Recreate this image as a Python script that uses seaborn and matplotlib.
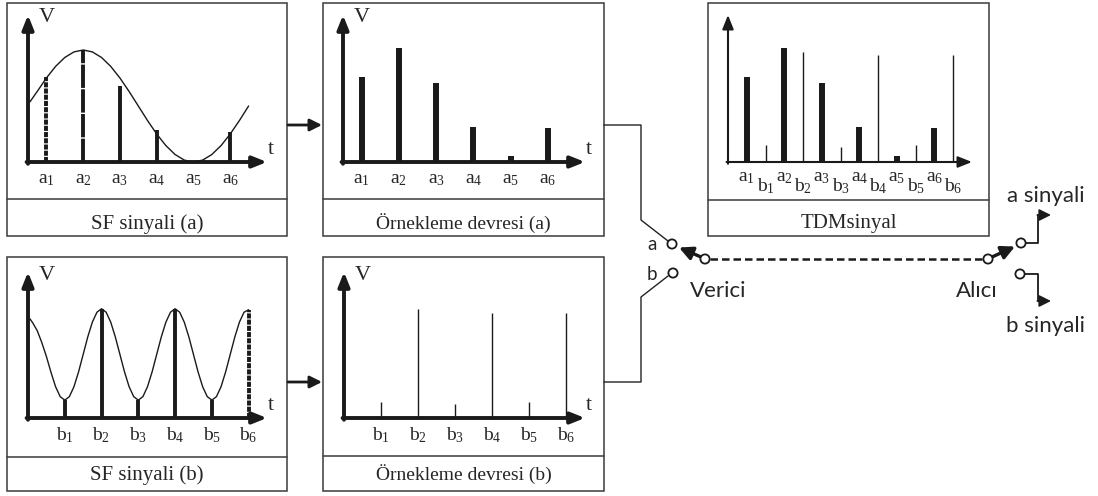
import numpy as np
import pandas as pd
import matplotlib
matplotlib.use("Agg")
import matplotlib.pyplot as plt
import seaborn as sns
from matplotlib.patches import Rectangle, Circle

# ---------------- data ----------------
a_labels = ["a1", "a2", "a3", "a4", "a5", "a6"]
b_labels = ["b1", "b2", "b3", "b4", "b5", "b6"]
a_pos = [1, 2, 3, 4, 5, 6]
b_pos = [1.5, 2.5, 3.5, 4.5, 5.5, 6.5]

# sampled amplitudes (relative units)
a_samples = [85, 114, 79, 35, 6, 34]
b_samples = [16, 110, 14, 106, 16, 106]
tdm_a_samples = [85, 114, 79, 35, 6, 34]
tdm_b_samples = [17, 110, 15, 107, 17, 107]
sf_a_samples = [85, 112, 76, 32, 0, 30]
sf_b_samples = [18, 110, 18, 110, 18, 109]

# analog signal (a)
sf_a_t = [0.55, 0.75, 1.0, 1.25, 1.5, 1.75, 2.0, 2.25, 2.5, 2.75, 3.0, 3.25, 3.5,
          3.75, 4.0, 4.25, 4.5, 4.75, 5.0, 5.25, 5.5, 5.75, 6.0, 6.25, 6.5]
sf_a_v = [60, 70.5, 84, 95.6, 104.5, 110.1, 112, 110.1, 104.5, 95.6, 84, 70.5, 56,
          41.5, 28, 16.4, 7.5, 1.9, 0, 1.9, 7.5, 16.4, 28, 41.5, 56]

# analog signal (b)
sf_b_t = [0.55, 0.625, 0.75, 0.875, 1.0, 1.125, 1.25, 1.375,
          1.5, 1.625, 1.75, 1.875, 2.0, 2.125, 2.25, 2.375, 2.5,
          2.625, 2.75, 2.875, 3.0, 3.125, 3.25, 3.375, 3.5,
          3.625, 3.75, 3.875, 4.0, 4.125, 4.25, 4.375, 4.5,
          4.625, 4.75, 4.875, 5.0, 5.125, 5.25, 5.375, 5.5,
          5.625, 5.75, 5.875, 6.0, 6.125, 6.25, 6.375, 6.5]
sf_b_v = [100, 96, 88, 76, 62, 46, 31.5, 21.5,
          18, 21.5, 31.5, 46.4, 64, 81.6, 96.5, 106.5, 110,
          106.5, 96.5, 81.6, 64, 46.4, 31.5, 21.5, 18,
          21.5, 31.5, 46.4, 64, 81.6, 96.5, 106.5, 110,
          106.5, 96.5, 81.6, 64, 46.4, 31.5, 21.5, 18,
          21.5, 31.5, 46.4, 64, 81.6, 96.5, 106.5, 109]

titles = ["SF sinyali (a)", "Örnekleme devresi (a)", "TDMsinyal",
          "SF sinyali (b)", "Örnekleme devresi (b)"]

# ---------------- style ----------------
sns.set_theme(style="white")
plt.rcParams["font.family"] = ["Liberation Serif", "DejaVu Serif"]
plt.rcParams["mathtext.fontset"] = "custom"
plt.rcParams["mathtext.rm"] = "Liberation Serif"
plt.rcParams["mathtext.it"] = "Liberation Serif:italic"
SANS = ["Lato", "DejaVu Sans"]

W, H = 1098, 496
fig = plt.figure(figsize=(W / 100, H / 100), dpi=100)
fig.patch.set_facecolor("white")
bg = fig.add_axes([0, 0, 1, 1])
bg.set_xlim(0, W)
bg.set_ylim(H, 0)
bg.axis("off")

BOX = "#3a3a3a"


def box(x0, y0, x1, ydiv, y1, title, fs, base):
    bg.add_patch(Rectangle((x0, y0), x1 - x0, y1 - y0, fill=False, ec=BOX, lw=1.1))
    bg.plot([x0, x1], [ydiv, ydiv], color=BOX, lw=1.1)
    bg.text((x0 + x1) / 2, base, title, ha="center", va="baseline", fontsize=fs)


def chart(xl, xr, yb, yt, axlw=2.8, vt=True):
    ax = fig.add_axes([xl / W, 1 - yb / H, (xr - xl) / W, (yb - yt) / H])
    ax.set_xlim(0.5, 7.0)
    ax.set_ylim(0, 147)
    ax.axis("off")
    ax.patch.set_visible(False)
    sty = dict(arrowstyle="-|>,head_length=0.6,head_width=0.24", color="k",
               lw=axlw, shrinkA=0, shrinkB=0, mutation_scale=14)
    ax.annotate("", xy=(0, 1), xytext=(0, -0.012), xycoords="axes fraction",
                arrowprops=sty)
    ax.annotate("", xy=(1, 0), xytext=(-0.006, 0), xycoords="axes fraction",
                arrowprops=sty)
    if vt:
        bg.text(xl + 19, yt + 3, "V", ha="center", va="center", fontsize=16)
        bg.text(xr + 4, yb - 13, "t", ha="center", va="center", fontsize=16)
    return ax


def mt(s):
    return "$\\mathrm{%s}_{%s}$" % (s[0], s[1])


def labels(ax, pos, labs, dy, fs=14):
    for p, l in zip(pos, labs):
        ax.annotate(mt(l), xy=(p, 0), xycoords=("data", "axes fraction"),
                    xytext=(0, -dy), textcoords="offset pixels",
                    ha="center", va="center", fontsize=fs, annotation_clip=False)


# ---------------- boxes ----------------
box(7, 3, 287, 199, 236, titles[0], 15, 229)
box(323, 3, 604, 199, 236, titles[1], 14, 229)
box(708, 3, 989, 200, 236, titles[2], 15, 228)
box(7, 257, 287, 457, 491, titles[3], 15, 480)
box(323, 257, 604, 456, 491, titles[4], 14, 480)

# ---------------- panel 1 : SF sinyali (a) ----------------
ax1 = chart(28, 267, 162, 15)
sns.lineplot(x=sf_a_t, y=sf_a_v, ax=ax1, color="k", lw=1.0, sort=False,
             estimator=None)
a_styles = [(0, (1.3, 0.3)), (0, (6.0, 0.35)), "-", "-", "-", "-"]
for p, v, ls in zip(a_pos, sf_a_samples, a_styles):
    if v > 0:
        ax1.plot([p, p], [0, v], color="k", lw=2.8, ls=ls, solid_capstyle="butt")
labels(ax1, a_pos, a_labels, 17)

# ---------------- panel 2 : Örnekleme devresi (a) ----------------
ax2 = chart(343, 585, 162, 15)
ax2.vlines(a_pos, 0, a_samples, colors="k", lw=4.3)
labels(ax2, a_pos, a_labels, 17)

# ---------------- panel 3 : TDM ----------------
ax3 = chart(728, 972, 162, 15, axlw=1.5, vt=False)
ax3.vlines(a_pos, 0, tdm_a_samples, colors="k", lw=4.3)
ax3.vlines(b_pos, 0, tdm_b_samples, colors="k", lw=1.0)
labels(ax3, a_pos, a_labels, 15)
labels(ax3, b_pos, b_labels, 24)

# ---------------- panel 4 : SF sinyali (b) ----------------
ax4 = chart(28, 267, 418, 272)
sns.lineplot(x=sf_b_t, y=sf_b_v, ax=ax4, color="k", lw=1.0, sort=False,
             estimator=None)
b_styles = ["-", "-", "-", "-", "-", (0, (1.3, 0.3))]
for p, v, ls in zip(b_pos, sf_b_samples, b_styles):
    ax4.plot([p, p], [0, v], color="k", lw=2.8, ls=ls, solid_capstyle="butt")
labels(ax4, b_pos, b_labels, 17)

# ---------------- panel 5 : Örnekleme devresi (b) ----------------
ax5 = chart(344, 585, 418, 272)
ax5.vlines(b_pos, 0, b_samples, colors="k", lw=1.0)
labels(ax5, b_pos, b_labels, 17)

# ---------------- connectors ----------------
conn = dict(arrowstyle="-|>,head_length=0.6,head_width=0.3", color="k", lw=2.0,
            shrinkA=0, shrinkB=0, mutation_scale=12)
bg.annotate("", xy=(322, 125), xytext=(288, 125), arrowprops=conn)
bg.annotate("", xy=(322, 382), xytext=(288, 382), arrowprops=conn)

LC = "#222222"
bg.plot([604, 641, 641, 668], [125, 125, 220, 241], color=LC, lw=1.0)
bg.plot([604, 641, 641, 668], [382, 382, 297, 276], color=LC, lw=1.0)

arm = dict(arrowstyle="-|>,head_length=0.8,head_width=0.4", color="k", lw=2.4,
           shrinkA=0, shrinkB=0, mutation_scale=10)
bg.annotate("", xy=(679, 247.5), xytext=(701, 257), arrowprops=arm)
bg.annotate("", xy=(1015, 246.5), xytext=(992, 257), arrowprops=arm)

bg.plot([710, 983], [259, 259], color="k", lw=1.8, ls=(0, (3, 1.6)))

bg.plot([1025.5, 1038, 1038], [243, 243, 215], color="k", lw=1.3)
bg.plot([1024.5, 1038, 1038], [274, 274, 301], color="k", lw=1.3)
flag = dict(arrowstyle="-|>,head_length=0.7,head_width=0.35", color="k", lw=1.3,
            shrinkA=0, shrinkB=0, mutation_scale=10)
bg.annotate("", xy=(1051, 215), xytext=(1037.4, 215), arrowprops=flag)
bg.annotate("", xy=(1051, 301), xytext=(1037.4, 301), arrowprops=flag)

for cx, cy in [(672, 244), (673, 273), (705, 259), (988, 259), (1021, 243), (1020, 274)]:
    bg.add_patch(Circle((cx, cy), 4.6, fc="white", ec="k", lw=1.3, zorder=5))

# ---------------- sans labels ----------------
bg.text(652, 250, "a", ha="center", va="baseline", fontsize=13.5, family=SANS)
bg.text(652, 280, "b", ha="center", va="baseline", fontsize=13.5, family=SANS)
bg.text(718, 297, "Verici", ha="center", va="baseline", fontsize=16, family=SANS)
bg.text(977, 297, "Alıcı", ha="center", va="baseline", fontsize=16, family=SANS)
bg.text(1046, 202, "a sinyali", ha="center", va="baseline", fontsize=16, family=SANS)
bg.text(1045, 332, "b sinyali", ha="center", va="baseline", fontsize=16, family=SANS)

fig.savefig("out.png", dpi=100, facecolor="white")
